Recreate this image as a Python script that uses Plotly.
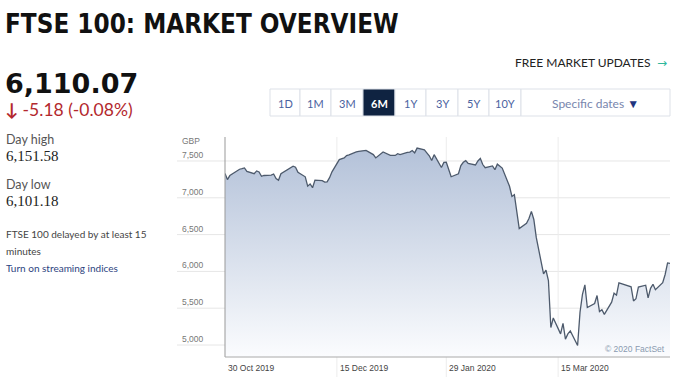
import plotly.graph_objects as go

# ---------------- data ----------------
dates = [
    "2019-10-30", "2019-10-31", "2019-11-01", "2019-11-04", "2019-11-05", "2019-11-06", "2019-11-07",
    "2019-11-08", "2019-11-11", "2019-11-12", "2019-11-13", "2019-11-14", "2019-11-15", "2019-11-18",
    "2019-11-19", "2019-11-20", "2019-11-21", "2019-11-22", "2019-11-25", "2019-11-26", "2019-11-27",
    "2019-11-28", "2019-11-29", "2019-12-02", "2019-12-03", "2019-12-04", "2019-12-05", "2019-12-06",
    "2019-12-09", "2019-12-10", "2019-12-11", "2019-12-12", "2019-12-13", "2019-12-16", "2019-12-17",
    "2019-12-18", "2019-12-19", "2019-12-20", "2019-12-23", "2019-12-24", "2019-12-27", "2019-12-30",
    "2019-12-31", "2020-01-02", "2020-01-03", "2020-01-06", "2020-01-07", "2020-01-08", "2020-01-09",
    "2020-01-10", "2020-01-13", "2020-01-14", "2020-01-15", "2020-01-16", "2020-01-17", "2020-01-20",
    "2020-01-21", "2020-01-22", "2020-01-23", "2020-01-24", "2020-01-27", "2020-01-28", "2020-01-29",
    "2020-01-30", "2020-01-31", "2020-02-03", "2020-02-04", "2020-02-05", "2020-02-06", "2020-02-07",
    "2020-02-10", "2020-02-11", "2020-02-12", "2020-02-13", "2020-02-14", "2020-02-17", "2020-02-18",
    "2020-02-19", "2020-02-20", "2020-02-21", "2020-02-24", "2020-02-25", "2020-02-26", "2020-02-27",
    "2020-02-28", "2020-03-02", "2020-03-03", "2020-03-04", "2020-03-05", "2020-03-06", "2020-03-09",
    "2020-03-10", "2020-03-11", "2020-03-12", "2020-03-13", "2020-03-16", "2020-03-17", "2020-03-18",
    "2020-03-19", "2020-03-20", "2020-03-23", "2020-03-24", "2020-03-25", "2020-03-26", "2020-03-27",
    "2020-03-30", "2020-03-31", "2020-04-01", "2020-04-02", "2020-04-03", "2020-04-06", "2020-04-07",
    "2020-04-08", "2020-04-09", "2020-04-14", "2020-04-15", "2020-04-16", "2020-04-17", "2020-04-20",
    "2020-04-21", "2020-04-22", "2020-04-23", "2020-04-24", "2020-04-27", "2020-04-28", "2020-04-29",
    "2020-04-30",
]
closes = [
    7330, 7248, 7302, 7369, 7388, 7396, 7406,
    7359, 7328, 7365, 7351, 7292, 7303, 7307,
    7323, 7262, 7238, 7326, 7394, 7405, 7430,
    7416, 7347, 7285, 7158, 7188, 7137, 7240,
    7233, 7213, 7217, 7273, 7353, 7519, 7525,
    7541, 7574, 7582, 7623, 7632, 7645, 7587,
    7542, 7604, 7622, 7576, 7573, 7575, 7599,
    7588, 7617, 7622, 7643, 7610, 7675, 7651,
    7611, 7571, 7507, 7586, 7412, 7481, 7484,
    7381, 7286, 7326, 7439, 7482, 7505, 7466,
    7446, 7500, 7534, 7452, 7409, 7433, 7382,
    7457, 7436, 7404, 7157, 7018, 7042, 6796,
    6581, 6654, 6718, 6815, 6705, 6462, 5965,
    6018, 5876, 5237, 5367, 5151, 5295, 5080,
    5151, 5191, 4994, 5446, 5688, 5816, 5510,
    5563, 5672, 5454, 5480, 5416, 5582, 5704,
    5677, 5843, 5791, 5598, 5628, 5787, 5812,
    5641, 5770, 5826, 5752, 5847, 5958, 6115,
    6110.07,
]
y_ticks = [5000, 5500, 6000, 6500, 7000, 7500]
y_tick_labels = ["5,000", "5,500", "6,000", "6,500", "7,000", "7,500"]
x_ticks = ["2019-10-30", "2019-12-15", "2020-01-29", "2020-03-15"]
x_tick_labels = ["30 Oct 2019", "15 Dec 2019", "29 Jan 2020", "15 Mar 2020"]
periods = ["1D", "1M", "3M", "6M", "1Y", "3Y", "5Y", "10Y"]
selected_period = "6M"

# ---------------- geometry ----------------
W, H = 674, 377
L, R, T, B = 225, 4, 137, 20
PW, PH = W - L - R, H - T - B


def px(x, y):
    return (x - L) / PW, (H - B - y) / PH


fig = go.Figure()
fig.add_trace(go.Scatter(
    x=dates, y=closes, mode="lines",
    line=dict(color="#4d5a6c", width=1.3),
    fill="tozeroy",
    fillgradient=dict(type="vertical", start=4837, stop=7650,
                      colorscale=[[0, "#fbfcfe"], [1, "#b4c2d9"]]),
    hoverinfo="skip",
))

shapes = []
annotations = []

# horizontal gridlines + labels
gx0, _ = px(177, 0)
for v, lab in zip(y_ticks, y_tick_labels):
    shapes.append(dict(type="line", xref="paper", yref="y", x0=gx0, x1=1, y0=v, y1=v,
                       line=dict(color="#e6e6e6", width=1), layer="below"))
    lx, _ = px(180, 0)
    annotations.append(dict(xref="paper", yref="y", x=lx, y=v, yshift=6, text=lab,
                            showarrow=False, xanchor="left", yanchor="middle",
                            font=dict(family="Liberation Sans", size=8.5, color="#777")))
gx, gy = px(180, 141)
annotations.append(dict(xref="paper", yref="paper", x=gx, y=gy, text="GBP", showarrow=False,
                        xanchor="left", yanchor="middle",
                        font=dict(family="Liberation Sans", size=8.5, color="#777")))

# vertical gridlines + labels
_, vy0 = px(0, 377)
for i, (d, lab) in enumerate(zip(x_ticks, x_tick_labels)):
    if i > 0:
        shapes.append(dict(type="line", xref="x", yref="paper", x0=d, x1=d, y0=vy0, y1=1,
                           line=dict(color="#ececec", width=1), layer="below"))
    _, ly = px(0, 368)
    annotations.append(dict(xref="x", yref="paper", x=d, y=ly, xshift=1, text=lab,
                            showarrow=False, xanchor="left", yanchor="middle",
                            font=dict(family="Liberation Sans", size=8.5, color="#444")))
# axes lines
shapes.append(dict(type="line", xref="paper", yref="paper", x0=0, x1=0, y0=0, y1=1,
                   line=dict(color="#999", width=1)))
shapes.append(dict(type="line", xref="paper", yref="paper", x0=0, x1=1, y0=0, y1=0,
                   line=dict(color="#aaa", width=1)))

# factset
fx, fy = px(667, 349)
annotations.append(dict(xref="paper", yref="paper", x=fx, y=fy, text="© 2020 FactSet",
                        showarrow=False, xanchor="right", yanchor="middle",
                        font=dict(family="Liberation Sans", size=8.5, color="#8a9ab0")))


def text(x, y, s, size, color, family, anchor="left", weight="normal"):
    ax, ay = px(x, y)
    annotations.append(dict(xref="paper", yref="paper", x=ax, y=ay, text=s, showarrow=False,
                            xanchor=anchor, yanchor="middle",
                            font=dict(family=family, size=size, color=color, weight=weight)))


# left header texts
text(3, 24, "<b>FTSE 100: MARKET OVERVIEW</b>", 25.8, "#111",
     "DejaVu Sans Condensed, Roboto Condensed, Liberation Sans Narrow, Roboto, sans-serif")
text(3, 83, "<b>6,110.07</b>", 27, "#111", "DejaVu Sans")
text(3, 110, "<b>↓</b> -5.18 (-0.08%)", 17.5, "#b3282d", "Lato")
text(4, 139, "Day high", 12.5, "#555", "Lato")
text(4, 156, "6,151.58", 15, "#222", "Liberation Serif")
text(4, 184, "Day low", 12.5, "#555", "Lato")
text(4, 201, "6,101.18", 15, "#222", "Liberation Serif")
text(4, 234, "FTSE 100 delayed by at least 15", 10, "#444", "Lato")
text(4, 251, "minutes", 10, "#444", "Lato")
text(4, 268, "Turn on streaming indices", 10, "#2d4380", "Lato")

# free market updates
text(652, 63, "FREE MARKET UPDATES", 12, "#222", "Lato", anchor="right")
text(669, 63, "→", 12, "#2fb89c", "DejaVu Sans", anchor="right")

# period buttons
edges = [270, 300, 331, 363, 395, 426, 458, 489, 521]
bt, bb = 89, 116
for i, p in enumerate(periods):
    x0, x1 = edges[i], edges[i + 1]
    px0, py0 = px(x0, bb)
    px1, py1 = px(x1, bt)
    sel = p == selected_period
    shapes.append(dict(type="rect", xref="paper", yref="paper", x0=px0, x1=px1, y0=py0, y1=py1,
                       line=dict(color="#dde1e8", width=1),
                       fillcolor="#0f2341" if sel else "white"))
    text((x0 + x1) / 2, 103, p, 11, "white" if sel else "#4a62a0", "Lato", anchor="center",
         weight="bold" if sel else "normal")
px0, py0 = px(521, bb)
px1, py1 = px(670, bt)
shapes.append(dict(type="rect", xref="paper", yref="paper", x0=px0, x1=px1, y0=py0, y1=py1,
                   line=dict(color="#dde1e8", width=1), fillcolor="white"))
text(595, 103, "Specific dates <span style='color:#1f3680'>▼</span>", 12, "#7886ad", "Lato",
     anchor="center")

fig.update_layout(
    width=W, height=H,
    margin=dict(l=L, r=R, t=T, b=B),
    paper_bgcolor="white", plot_bgcolor="rgba(0,0,0,0)",
    showlegend=False,
    xaxis=dict(range=["2019-10-30", "2020-04-30"], showgrid=False, showticklabels=False,
               zeroline=False, showline=False, ticks=""),
    yaxis=dict(range=[4837, 7826], showgrid=False, showticklabels=False, zeroline=False,
               showline=False, ticks=""),
    shapes=shapes, annotations=annotations,
    hovermode=False,
)

fig.write_html("out.html", config={"displayModeBar": False},
               post_script="document.body.style.margin='0';document.body.style.padding='0';"
                           "document.documentElement.style.overflow='hidden';")
